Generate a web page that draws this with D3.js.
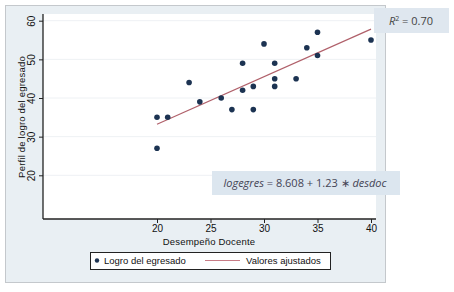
<!DOCTYPE html>
<html><head><meta charset="utf-8">
<script src="https://cdn.jsdelivr.net/npm/d3@7"></script>
<style>body{margin:0;background:#fff;} svg{display:block;font-family:"Liberation Sans",Arial,sans-serif;}</style>
</head><body>
<svg id="c" width="454" height="292"></svg>
<script>
const desdoc = [20,20,21,23,24,26,27,28,28,29,29,30,31,31,31,33,34,35,35,40];
const logegres = [35,27,35,44,39,40,37,49,42,43,37,54,49,45,43,45,53,57,51,55];
const xTicks = [20,25,30,35,40];
const yTicks = [20,30,40,50,60];
const intercept = 8.608, slope = 1.23;
const r2Label = "0.70";
const xTitle = "Desempeño Docente";
const yTitle = "Perfil de logro del egresado";
const legendLabels = ["Logro del egresado","Valores ajustados"];

const svg = d3.select("#c");
const dotColor = "#1c3352", lineColor = "#b0606a";

// outer panel
svg.append("rect").attr("x",5.5).attr("y",5.5).attr("width",380).attr("height",277)
  .attr("fill","#e9eff3").attr("stroke","#c4c8cc");

const L=43, R=376, T=14, B=219;
svg.append("rect").attr("x",L).attr("y",T).attr("width",R-L).attr("height",B-T).attr("fill","#fff");

const x = d3.scaleLinear().domain([20,40]).range([157,371]);
const y = d3.scaleLinear().domain([20,60]).range([175.3,20.7]);

// grid
svg.append("g").selectAll("line").data(yTicks).join("line")
  .attr("x1",L).attr("x2",R).attr("y1",d=>y(d)).attr("y2",d=>y(d))
  .attr("stroke","#eef1f4").attr("stroke-width",1);

// axes
const xAx = svg.append("g").attr("transform",`translate(0,${B})`)
  .call(d3.axisBottom(x).tickValues(xTicks).tickSize(4).tickPadding(2));
xAx.select(".domain").attr("d",`M${L},0H${R}`);
const yAx = svg.append("g").attr("transform",`translate(${L},0)`)
  .call(d3.axisLeft(y).tickValues(yTicks).tickSize(4).tickPadding(2));
yAx.select(".domain").attr("d",`M0,${T}V${B}`);
[xAx,yAx].forEach(a=>{
  a.select(".domain").attr("stroke","#222").attr("stroke-width",1.3);
  a.selectAll(".tick line").attr("stroke","#222");
  a.selectAll("text").attr("font-size",10).attr("fill","#111").attr("font-family","Liberation Sans, Arial, sans-serif");
});
yAx.selectAll(".tick text").attr("text-anchor","middle").attr("x",0).attr("dy",0)
  .attr("transform","translate(-11,0) rotate(-90)").attr("dominant-baseline","middle");

// titles
svg.append("text").attr("x",209).attr("y",245).attr("text-anchor","middle")
  .attr("font-size",9.5).attr("fill","#111").attr("letter-spacing",0.2).text(xTitle);
svg.append("text").attr("transform","translate(25,117) rotate(-90)").attr("text-anchor","middle")
  .attr("font-size",9.5).attr("fill","#111").attr("letter-spacing",0.2).text(yTitle);

// fitted line
svg.append("line").attr("x1",x(20)).attr("x2",x(40))
  .attr("y1",y(intercept+slope*20)).attr("y2",y(intercept+slope*40))
  .attr("stroke",lineColor).attr("stroke-width",1.2);

// points
svg.append("g").selectAll("circle").data(desdoc).join("circle")
  .attr("cx",d=>x(d)).attr("cy",(d,i)=>y(logegres[i])).attr("r",2.8).attr("fill",dotColor);

// R2 box
svg.append("rect").attr("x",374).attr("y",8).attr("width",75).attr("height",25).attr("fill","#dfe7ef");
const r2t = svg.append("text").attr("x",411).attr("y",25).attr("text-anchor","middle")
  .attr("font-size",11).attr("fill","#444").attr("font-family","Open Sans, Liberation Sans, sans-serif");
r2t.append("tspan").attr("font-style","italic").text("R");
r2t.append("tspan").attr("font-size",7).attr("dy",-4).text("2");
r2t.append("tspan").attr("dy",4).text(" = " + r2Label);

// equation box
svg.append("rect").attr("x",212).attr("y",171).attr("width",188).attr("height",24).attr("fill","#dce6ef");
const et = svg.append("text").attr("x",305).attr("y",187).attr("text-anchor","middle")
  .attr("font-size",11).attr("fill","#445").attr("font-family","Open Sans, Liberation Sans, sans-serif");
et.append("tspan").attr("font-style","italic").text("logegres");
et.append("tspan").text(` = ${intercept} + ${slope} ∗ `);
et.append("tspan").attr("font-style","italic").text("desdoc");

// legend
svg.append("rect").attr("x",90.5).attr("y",252.5).attr("width",240).attr("height",17)
  .attr("fill","#fff").attr("stroke","#222").attr("stroke-width",1);
svg.append("circle").attr("cx",97).attr("cy",260.5).attr("r",2.2).attr("fill",dotColor);
svg.append("text").attr("x",104).attr("y",264).attr("font-size",9.5).attr("fill","#111").text(legendLabels[0]);
svg.append("line").attr("x1",205).attr("x2",240).attr("y1",260.5).attr("y2",260.5)
  .attr("stroke","#c87c86").attr("stroke-width",1.2);
svg.append("text").attr("x",246).attr("y",264).attr("font-size",9.5).attr("fill","#111").text(legendLabels[1]);
</script>
</body></html>
